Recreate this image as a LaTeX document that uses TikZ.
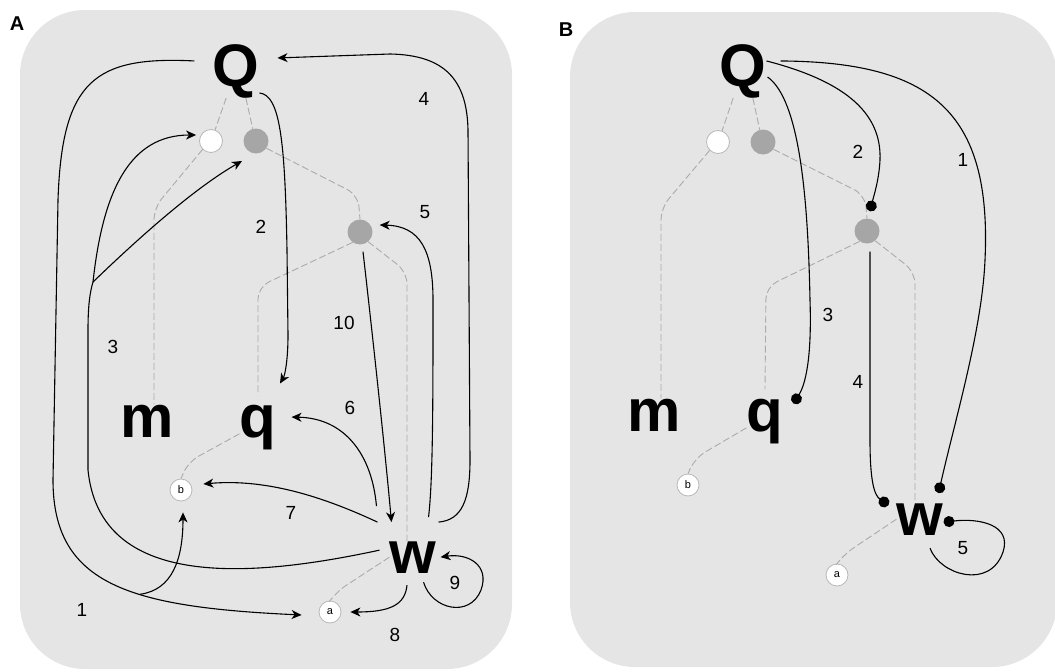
\documentclass[tikz,border=0pt]{standalone}
\usepackage{fontspec}
\setmainfont{Liberation Sans}
\usetikzlibrary{arrows.meta}
\usetikzlibrary{calc}

\tikzset{
  panel/.style={fill=black!10, rounded corners=65pt},
  big/.style={font=\fontsize{60}{60}\selectfont\bfseries, inner sep=0pt, anchor=base},
  hub/.style={circle, fill=black!35, minimum size=25pt, inner sep=0pt},
  hollow/.style={circle, draw=black!28, line width=0.8pt, fill=white, minimum size=23pt, inner sep=0pt},
  leaf/.style={circle, draw=black!28, line width=0.8pt, fill=white, minimum size=22pt, inner sep=0pt, font=\fontsize{11}{11}\selectfont},
  tie/.style={draw=black!33, line width=0.9pt, dash pattern=on 7pt off 3pt, rounded corners=12pt},
  wire/.style={draw, line width=1.1pt},
  link/.style={wire, -{Stealth[length=10pt,width=9pt,inset=3pt]}},
  dotlink/.style={wire, -{Circle[length=11pt]}},
  num/.style={font=\fontsize{19}{19}\selectfont},
  paneltag/.style={font=\fontsize{20}{20}\selectfont\bfseries}
}

\begin{document}
\begin{tikzpicture}[x=1pt, y=1pt]
        \useasboundingbox (0,0) rectangle (1055,-672);
        \fill[panel] (20,-10) rectangle (512,-669);
        \fill[panel] (570,-12) rectangle (1057,-667);
        \node[paneltag] (tagA) at (17,-24) {A};
        \node[paneltag] (tagB) at (566,-30) {B};

        % panel A
        \node[big] (nQ) at (236,-86) {Q};
        \node[big] (nm) at (147,-437) {m};
        \node[big] (nq) at (258,-437) {q};
        \node[big] (nw) at (413,-573) {w};
        \node[hollow] (cw) at (211,-141) {};
        \node[hub] (cg1) at (256,-141) {};
        \node[hub] (cg2) at (360,-232) {};
        \node[leaf] (cb) at (181,-490) {b};
        \node[leaf] (ca) at (330,-612) {a};

        \draw[tie] (nQ.250) -- (cw.70);
        \draw[tie] (nQ.290) -- (cg1.105);
        \draw[tie] (cw.225) -- (154,-208) -- ([xshift=7pt]nm.north);
        \draw[tie] (cg1.-35) -- (358,-195) -- (cg2.north);
        \draw[tie] (cg2.235) -- (258,-287) -- ([yshift=9pt]nq.north);
        \draw[tie] (cg2.-50) -- (407,-272) -- ([xshift=-6pt]nw.north);
        \draw[tie] (nq.200) -- (188,-462) -- (cb.north);
        \draw[tie] (nw.west) -- (336,-592) -- (ca.north);

        \draw[link] ([shift={(-18pt,10pt)}]nQ.west) .. controls (95,-56) and (62,-80) .. (58,-200) -- (53,-480)
            .. controls (53,-585) and (130,-607) .. coordinate[pos=0.6] (j1) ([shift={(-17pt,-3pt)}]ca.west);
        \draw[link] (j1) .. controls (172,-590) and (183,-560) .. ([shift={(2pt,-11pt)}]cb.south);
        \draw[wire] ([shift={(-10pt,7pt)}]nw.west) .. controls (250,-578) and (100,-590) .. (88,-470) -- (88,-330)
            .. controls (88,-305) and (90,-292) .. (93,-282) coordinate (j3);
        \draw[link] (j3) .. controls (103,-190) and (130,-135) .. ([shift={(-3pt,6pt)}]cw.west);
        \draw[link] (j3) .. controls (150,-227) and (200,-185) .. ([shift={(-5pt,-11pt)}]cg1.south west);
        \draw[link] ([yshift=5pt]nQ.south east) .. controls (280,-95) and (285,-140) .. (287,-250) -- (288,-335)
            .. controls (288,-360) and (285,-375) .. ([shift={(22pt,21pt)}]nq.north);
        \draw[link] ([shift={(2pt,19pt)}]nw.north east) .. controls (462,-520) and (470,-500) .. (470,-460) -- (468,-130)
            .. controls (467,-80) and (445,-55) .. (390,-54) -- ([shift={(18pt,13pt)}]nQ.east);
        \draw[link] ([shift={(-8pt,24pt)}]nw.north east) .. controls (433,-480) and (433,-400) .. (433,-300)
            .. controls (433,-250) and (420,-226) .. ([shift={(7pt,7pt)}]cg2.east);
        \draw[link] ([shift={(3pt,-7pt)}]cg2.south) .. controls (372,-330) and (385,-450) .. ([shift={(2pt,19pt)}]nw.north west);
        \draw[link] ([shift={(-13pt,35pt)}]nw.north west) .. controls (372,-455) and (345,-418) .. ([shift={(15pt,10pt)}]nq.east);
        \draw[link] ([shift={(-12pt,19pt)}]nw.north west) .. controls (330,-500) and (270,-478) .. ([shift={(11pt,6pt)}]cb.east);
        \draw[link] ([shift={(-6pt,-12pt)}]nw.south) .. controls (405,-605) and (390,-612) .. ([xshift=9pt]ca.east);
        \draw[link] ([shift={(-13pt,-9pt)}]nw.south east) .. controls (432,-610) and (470,-618) .. (481,-590)
            .. controls (490,-565) and (468,-553) .. ([xshift=4pt]nw.east);

        \node[num] (a1) at (82,-610) {1};
        \node[num] (a2) at (261,-227) {2};
        \node[num] (a3) at (113,-347) {3};
        \node[num] (a4) at (424,-99) {4};
        \node[num] (a5) at (425,-212) {5};
        \node[num] (a6) at (350,-408) {6};
        \node[num] (a7) at (291,-513) {7};
        \node[num] (a8) at (395,-635) {8};
        \node[num] (a9) at (455,-583) {9};
        \node[num] (a10) at (344,-323) {10};

        % panel B
        \node[big] (nQB) at (743,-86) {Q};
        \node[big] (nmB) at (654,-431) {m};
        \node[big] (nqB) at (765,-431) {q};
        \node[big] (nwB) at (920,-535) {w};
        \node[hollow] (cwB) at (718,-142) {};
        \node[hub] (cg1B) at (763,-142) {};
        \node[hub] (cg2B) at (867,-231) {};
        \node[leaf] (cbB) at (688,-485) {b};
        \node[leaf] (caB) at (837,-575) {a};

        \draw[tie] (nQB.250) -- (cwB.70);
        \draw[tie] (nQB.290) -- (cg1B.105);
        \draw[tie] (cwB.225) -- (661,-208) -- ([xshift=7pt]nmB.north);
        \draw[tie] (cg1B.-35) -- (865,-195) -- (cg2B.north);
        \draw[tie] (cg2B.235) -- (766,-287) -- ([yshift=9pt]nqB.north);
        \draw[tie] (cg2B.-50) -- (915,-272) -- ([xshift=-5pt]nwB.north);
        \draw[tie] (nqB.200) -- (695,-458) -- (cbB.north);
        \draw[tie] (nwB.west) -- (843,-555) -- (caB.north);

        \draw[dotlink] ([shift={(14pt,10pt)}]nQB.east) .. controls (930,-62) and (992,-110) .. (985,-260)
            .. controls (982,-330) and (955,-420) .. ([shift={(-5pt,10pt)}]nwB.north east);
        \draw[dotlink] ([yshift=10pt]nQB.east) .. controls (840,-80) and (882,-110) .. (880,-160)
            .. controls (879,-180) and (874,-195) .. ([shift={(3pt,7pt)}]cg2B.north);
        \draw[dotlink] ([shift={(1pt,-6pt)}]nQB.east) .. controls (800,-100) and (808,-200) .. (810,-300)
            .. controls (812,-360) and (805,-385) .. ([shift={(10pt,-5pt)}]nqB.north east);
        \draw[dotlink] ([shift={(3pt,-8pt)}]cg2B.south) -- (870,-440) .. controls (870,-480) and (874,-495) .. ([shift={(-8pt,-2pt)}]nwB.north west);
        \draw[dotlink] ([shift={(10pt,-13pt)}]nwB.south) .. controls (940,-575) and (990,-590) .. (1003,-552)
            .. controls (1012,-525) and (980,-518) .. ([yshift=-3pt]nwB.east);

        \node[num] (b1) at (963,-160) {1};
        \node[num] (b2) at (858,-152) {2};
        \node[num] (b3) at (828,-315) {3};
        \node[num] (b4) at (858,-382) {4};
        \node[num] (b5) at (963,-548) {5};
\end{tikzpicture}
\end{document}
